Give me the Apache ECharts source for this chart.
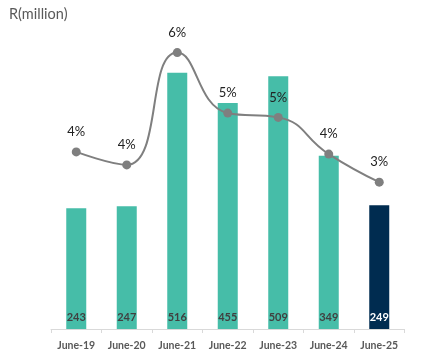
<!DOCTYPE html>
<html><head><meta charset="utf-8">
<script src="https://cdn.jsdelivr.net/npm/echarts@6/dist/echarts.min.js"></script>
<style>html,body{margin:0;padding:0;background:#fff}#c{width:429px;height:356px}</style>
</head><body><div id="c"></div>
<script>
const categories = ['June-19','June-20','June-21','June-22','June-23','June-24','June-25'];
const amounts = [243, 247, 516, 455, 509, 349, 249];
const percents = [4.1, 3.8, 6.4, 5.0, 4.9, 4.05, 3.4];
const unitLabel = 'R(million)';

const F = 'Lato, "Noto Sans", sans-serif';
const chart = echarts.init(document.getElementById('c'));
chart.setOption({
  animation: false,
  title: { text: unitLabel, left: 4, top: 2, textStyle: { fontFamily: F, fontSize: 14.5, fontWeight: 'normal', color: '#595959' } },
  grid: { left: 51, right: 24.5, top: 31, bottom: 27 },
  xAxis: {
    type: 'category', data: categories, boundaryGap: true,
    axisLine: { lineStyle: { color: '#d9d9d9' } },
    axisTick: { show: true, length: 4, lineStyle: { color: '#d9d9d9' } },
    axisLabel: { interval: 0, hideOverlap: false, fontFamily: F, fontSize: 10.5, fontWeight: 'bold', color: '#595959', margin: 11 }
  },
  yAxis: [
    { type: 'value', min: 0, max: 600, show: false, splitLine: { show: false } },
    { type: 'value', min: 0, max: 6.9, show: false, splitLine: { show: false } }
  ],
  series: [
    {
      type: 'bar', barWidth: 20, yAxisIndex: 0,
      data: amounts.map((v, i) => ({
        value: v,
        itemStyle: { color: i === amounts.length - 1 ? '#002C50' : '#46BDA8' },
        label: { color: i === amounts.length - 1 ? '#ffffff' : '#404040' }
      })),
      label: { show: true, position: 'insideBottom', distance: 6, fontFamily: F, fontSize: 11, fontWeight: 'bold' }
    },
    {
      type: 'line', yAxisIndex: 1, smooth: 0.5, data: percents,
      symbol: 'circle', symbolSize: 9,
      lineStyle: { color: '#7f7f7f', width: 2 },
      itemStyle: { color: '#7f7f7f' },
      label: { show: true, position: 'top', distance: 9, fontFamily: F, fontSize: 13, color: '#222',
        formatter: p => Math.round(p.value) + '%' }
    }
  ]
});
</script></body></html>
